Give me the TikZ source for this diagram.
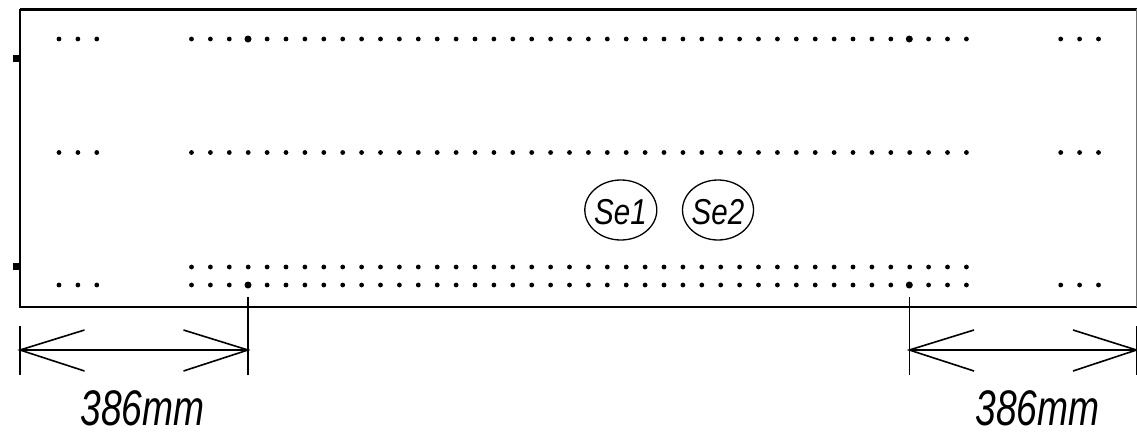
\documentclass[tikz,border=0pt]{standalone}
\usepackage{fontspec}
\setmainfont{Liberation Sans}
\tikzset{
 frameline/.style={line width=2pt,black},
 dimline/.style={line width=1.6pt,black},
 dotsmall/.style={circle,fill=black,inner sep=0pt,minimum size=4.8pt},
 dotbig/.style={circle,fill=black,inner sep=0pt,minimum size=7pt},
 tag/.style={ellipse,draw,line width=1.3pt,inner sep=0pt,minimum height=60pt},
 tagtext/.style={font=\fontsize{36}{36}\selectfont\itshape,xscale=.82,inner sep=0pt},
 dimtext/.style={font=\fontsize{50}{50}\selectfont\itshape,xscale=.744,inner sep=0pt}
}
\usetikzlibrary{shapes.geometric}
\begin{document}
\begin{tikzpicture}[x=1pt,y=-1pt]
\useasboundingbox (0,0) rectangle (1137,434);
% frame
\draw[line width=3pt] (20,9) -- (1137,9);
\draw[frameline] (20,9) -- (20,306.5) -- (1137,306.5);
\draw[line width=1pt,black!55] (1136.5,9) -- (1136.5,306.5);
\fill (13,54.5) rectangle (20,62);
\fill (13,262.5) rectangle (20,270);
% dots
\foreach \y in {39,152.5,285}{
  \foreach \i in {0,1,2}{
    \node[dotsmall] (l\i-\y) at ({59+18.9*\i},\y) {};
    \node[dotsmall] (r\i-\y) at ({1060.7+18.9*\i},\y) {};
  }
}
\foreach \y in {39,152.5,267,285}{
  \foreach \i in {0,...,41}{
    \node[dotsmall] (m\i-\y) at ({191.5+18.9*\i},\y) {};
  }
}
\node[dotbig] (bigA) at (248,39) {};
\node[dotbig] (bigB) at (909.3,39) {};
\node[dotbig] (bigC) at (248,285) {};
\node[dotbig] (bigD) at (909.3,285) {};
% tags
\node[tag,minimum width=72pt] (se1) at (620.8,210) {};
\node[tag,minimum width=71pt] (se2) at (718,210) {};
\node[tagtext] (se1t) at (620.5,212) {Se1};
\node[tagtext] (se2t) at (718,212) {Se2};
% dimensions
\coordinate (a1) at (20,326); \coordinate (a2) at (20,375);
\coordinate (b1) at (248,297); \coordinate (b2) at (248,375);
\coordinate (c1) at (909.3,297); \coordinate (c2) at (909.3,375);
\coordinate (d1) at (1136.5,326); \coordinate (d2) at (1136.5,375);
\coordinate (al) at (20,350); \coordinate (bl) at (248,350);
\coordinate (cl) at (909.3,350); \coordinate (dl) at (1136.5,350);
\draw[dimline] (a1) -- (a2);
\draw[dimline] (b1) -- (b2);
\draw[dimline] (c1) -- (c2);
\draw[dimline] (d1) -- (d2);
\draw[dimline] (al) -- (bl);
\draw[dimline] (cl) -- (dl);
\draw[dimline] (84.5,330) -- (al) -- (84.5,371);
\draw[dimline] (183.5,330) -- (bl) -- (183.5,371);
\draw[dimline] (974,330) -- (cl) -- (974,371);
\draw[dimline] (1073,330) -- (dl) -- (1073,371);
\node[dimtext] (t1) at (142.5,408.5) {386mm};
\node[dimtext] (t2) at (1037.5,408.5) {386mm};
\end{tikzpicture}
\end{document}
